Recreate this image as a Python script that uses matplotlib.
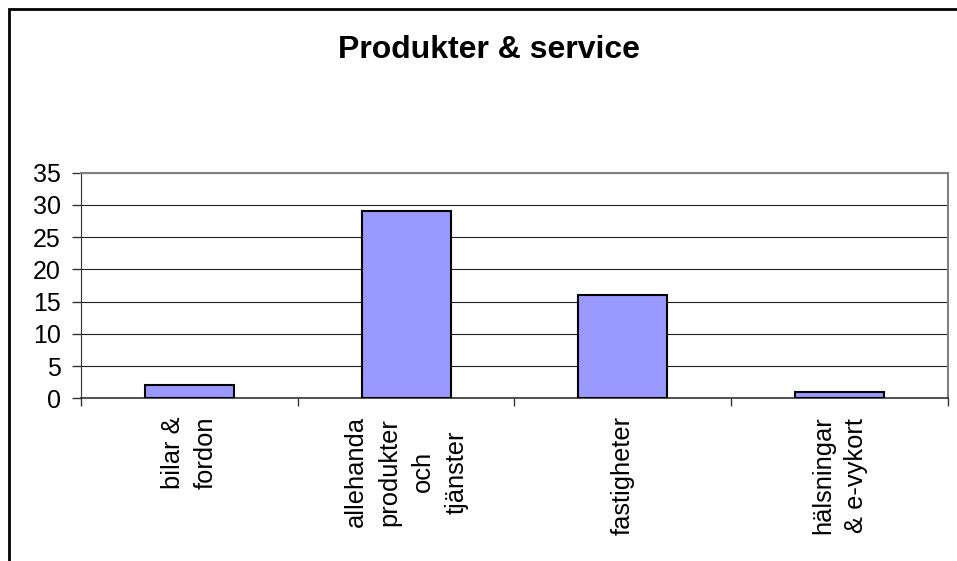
import matplotlib.pyplot as plt
import matplotlib.ticker as ticker
from matplotlib.patches import Rectangle

# Chart data
categories = ["bilar &\nfordon", "allehanda\nprodukter\noch\ntjänster",
              "fastigheter", "hälsningar\n& e-vykort"]
values = [2, 29, 16, 1]
y_ticks = [0, 5, 10, 15, 20, 25, 30, 35]

BAR_COLOR = "#9999FF"

plt.rcParams["font.family"] = ["Liberation Sans", "DejaVu Sans"]

fig = plt.figure(figsize=(9.57, 5.61), dpi=100)
ax = fig.add_axes([0.0846, 0.29, 0.9906 - 0.0846, 0.6922 - 0.29])

x = list(range(len(categories)))
ax.bar(x, values, width=0.41, color=BAR_COLOR, edgecolor="black", linewidth=1.5, zorder=3)

ax.set_xlim(-0.5, len(categories) - 0.5)
ax.set_ylim(0, 35)
ax.set_yticks(y_ticks)
ax.yaxis.grid(True, color="#222222", linewidth=0.8, zorder=0)

# category labels at centres, tick marks at the boundaries
ax.set_xticks(x)
ax.set_xticklabels(categories, rotation=90, fontsize=18.4, linespacing=1.5,
                   ha="center", va="top", multialignment="center")
ax.xaxis.set_minor_locator(ticker.FixedLocator([i + 0.5 for i in range(-1, len(categories))]))
ax.tick_params(axis="x", which="major", length=0, pad=13)
ax.tick_params(axis="x", which="minor", length=6, width=1, color="#333333")
ax.tick_params(axis="y", length=6.5, width=1, pad=8, labelsize=18, color="#333333")

for side in ["top", "right"]:
    ax.spines[side].set_color("#808080")
    ax.spines[side].set_linewidth(1.5)
ax.spines["left"].set_color("#333333")
ax.spines["bottom"].set_color("#333333")
ax.spines["bottom"].set_linewidth(1.2)

fig.text(0.511, 0.91, "Produkter & service", ha="center", va="center",
         fontsize=23, fontweight="bold")

# outer chart frame (only left and top edges are visible in the crop)
fig.patches.append(Rectangle((8.5 / 957, -0.1), 1.2, 1 - 8.5 / 561 + 0.1,
                             transform=fig.transFigure, fill=False,
                             edgecolor="black", linewidth=2, zorder=10))

fig.savefig("out.png", dpi=100)
